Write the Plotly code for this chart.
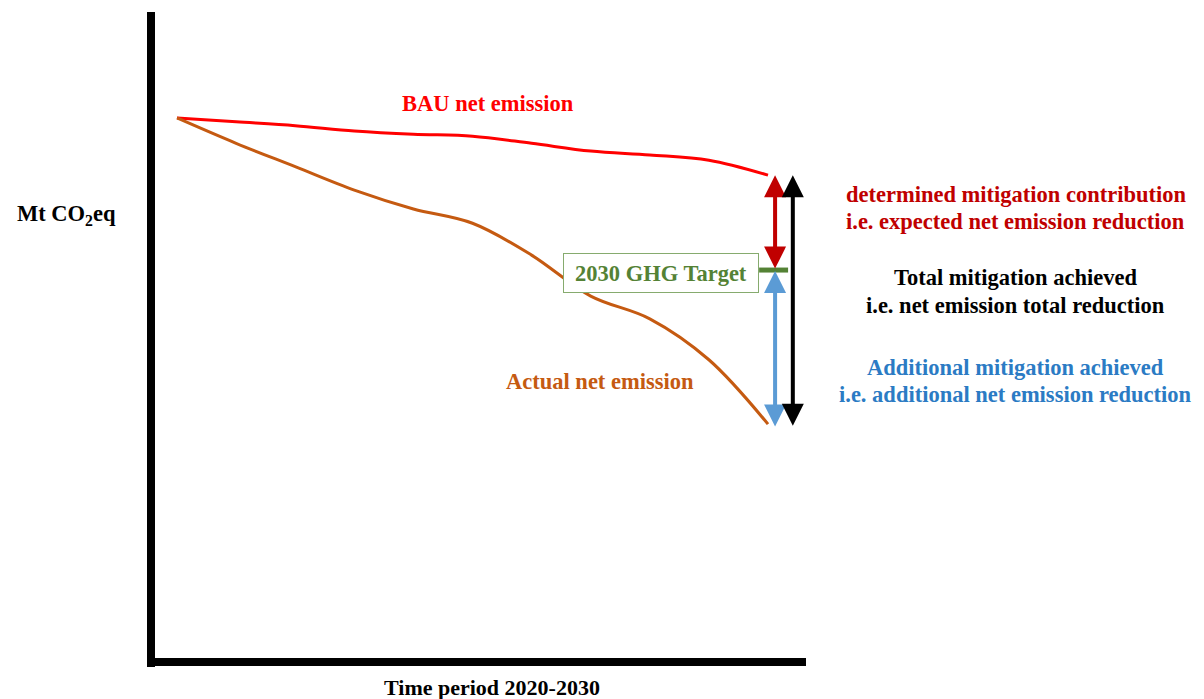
import plotly.graph_objects as go

# ---- data (conceptual emission pathways, arbitrary Mt CO2eq units) ----
years = [2020, 2021, 2022, 2023, 2024, 2025, 2026, 2027, 2028, 2029, 2030]
bau = [83.7, 83.1, 82.5, 81.7, 81.2, 80.9, 79.8, 78.6, 78.0, 77.2, 74.9]
actual = [83.7, 79.8, 76.2, 72.6, 69.7, 67.5, 62.6, 56.3, 52.8, 46.5, 36.6]
target_2030 = 60.3

FONT = "Liberation Serif"
RED = "#FF0000"
DARKRED = "#C00000"
ORANGE = "#C55A11"
GREEN = "#548235"
BLUE_ARROW = "#5B9BD5"
BLUE_TEXT = "#2B7BC4"
FS = 22.5

end_year = years[-1]
fig = go.Figure()

fig.add_trace(go.Scatter(x=years, y=bau, mode="lines",
                         line=dict(color=RED, width=3, shape="spline", smoothing=1.0),
                         hoverinfo="skip"))
fig.add_trace(go.Scatter(x=years, y=actual, mode="lines",
                         line=dict(color=ORANGE, width=3, shape="spline", smoothing=1.0),
                         hoverinfo="skip"))

# green target tick
fig.add_trace(go.Scatter(x=[end_year - 0.15, end_year + 0.34], y=[target_2030, target_2030],
                         mode="lines", line=dict(color=GREEN, width=5), hoverinfo="skip"))

def double_arrow(xv, y0, y1, color):
    fig.add_annotation(x=xv, y=y0, ax=xv, ay=y1, xref="x", yref="y", axref="x", ayref="y",
                       text="", showarrow=True, arrowhead=2, startarrowhead=2,
                       arrowside="end+start", arrowwidth=4, arrowsize=1.1,
                       startarrowsize=1.1, arrowcolor=color)

double_arrow(end_year + 0.12, bau[-1], target_2030, DARKRED)
double_arrow(end_year + 0.12, target_2030 - 0.15, actual[-1] - 0.6, BLUE_ARROW)
double_arrow(end_year + 0.42, bau[-1], actual[-1] - 0.5, "#000000")

# target box
fig.add_annotation(x=2028.19, y=59.9, xref="x", yref="y", showarrow=False, xanchor="center",
                   yanchor="middle", text="<b>2030 GHG Target</b>", width=192, height=36,
                   bordercolor="#86AB6E", borderwidth=1, bgcolor="white",
                   font=dict(family=FONT, size=FS, color=GREEN))

fig.add_annotation(x=2025.26, y=86.0, xref="x", yref="y", showarrow=False, xanchor="center",
                   yanchor="middle", text="<b>BAU net emission</b>",
                   font=dict(family=FONT, size=FS, color=RED))
fig.add_annotation(x=2027.16, y=43.1, xref="x", yref="y", showarrow=False, xanchor="center",
                   yanchor="middle", text="<b>Actual net emission</b>",
                   font=dict(family=FONT, size=FS, color=ORANGE))

fig.add_annotation(x=-0.2076, y=0.6877, xref="paper", yref="paper", xanchor="left",
                   yanchor="middle", showarrow=False, text="<b>Mt CO<sub>2</sub>eq</b>",
                   font=dict(family=FONT, size=FS, color="black"))
fig.add_annotation(x=0.5206, y=-0.0385, xref="paper", yref="paper", showarrow=False,
                   xanchor="center", yanchor="middle", text="<b>Time period 2020-2030</b>",
                   font=dict(family=FONT, size=22, color="black"))

right_texts = [
    ("determined mitigation contribution", 0.720, DARKRED),
    ("i.e. expected net emission reduction", 0.677, DARKRED),
    ("Total mitigation achieved", 0.5908, "black"),
    ("i.e. net emission total reduction", 0.5477, "black"),
    ("Additional mitigation achieved", 0.4538, BLUE_TEXT),
    ("i.e. additional net emission reduction", 0.4108, BLUE_TEXT),
]
for t, yy, c in right_texts:
    fig.add_annotation(x=1.3206, y=yy, xref="paper", yref="paper", showarrow=False,
                       xanchor="center", yanchor="middle",
                       text="<b>" + t + "</b>", font=dict(family=FONT, size=FS, color=c))

# axis lines
fig.add_shape(type="line", xref="paper", yref="paper", x0=0, x1=0, y0=1, y1=-0.0077,
              line=dict(color="black", width=8))
fig.add_shape(type="line", xref="paper", yref="paper", x0=-0.006, x1=1, y0=0, y1=0,
              line=dict(color="black", width=8))

fig.update_layout(
    width=1204, height=699,
    margin=dict(l=151, r=398, t=12, b=37),
    paper_bgcolor="white", plot_bgcolor="white",
    showlegend=False,
    xaxis=dict(range=[2019.56, 2030.643], visible=False),
    yaxis=dict(range=[0, 100], visible=False),
)

fig.write_html("out.html", config={"displayModeBar": False},
               post_script="document.body.style.margin='0';")
